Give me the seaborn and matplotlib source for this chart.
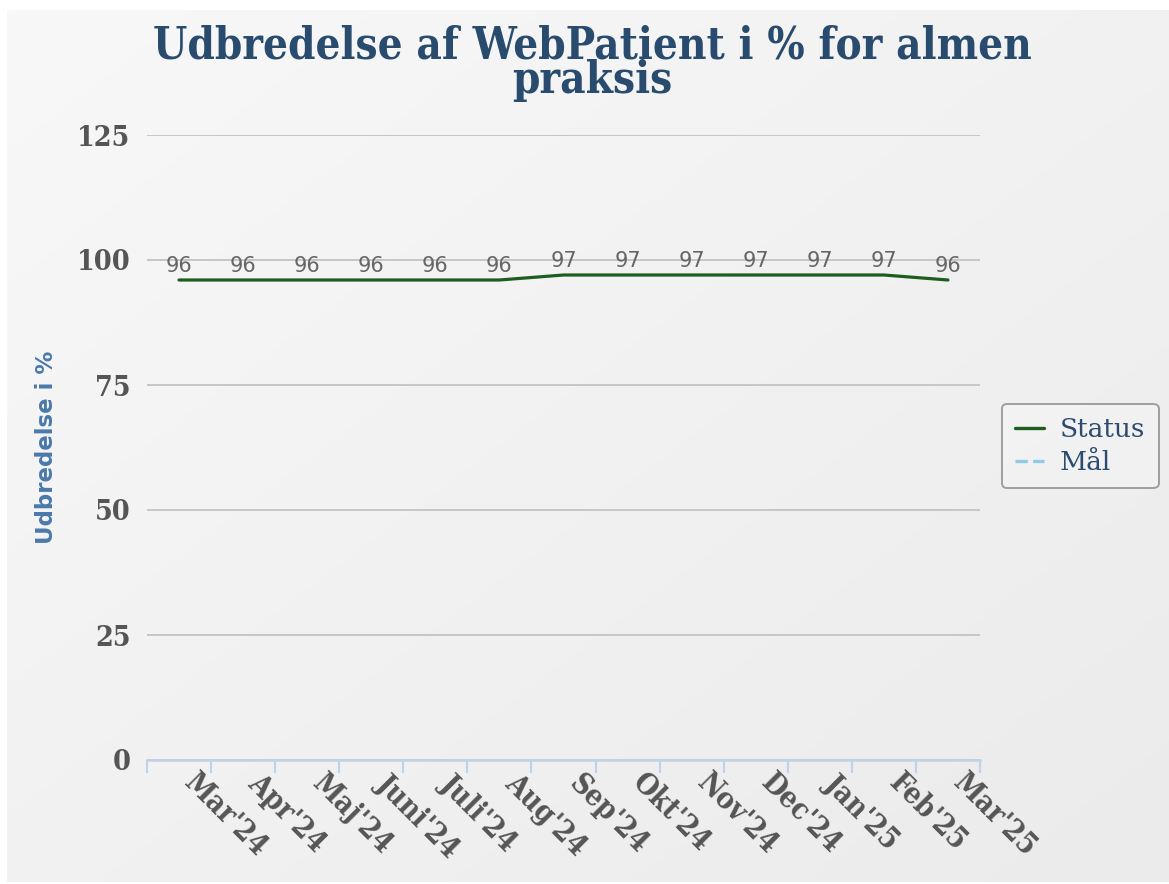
import numpy as np
import pandas as pd
import matplotlib
matplotlib.use('Agg')
import matplotlib.pyplot as plt
from matplotlib.lines import Line2D
from matplotlib.transforms import ScaledTranslation
import seaborn as sns

# data
months = ["Mar'24", "Apr'24", "Maj'24", "Juni'24", "Juli'24", "Aug'24",
          "Sep'24", "Okt'24", "Nov'24", "Dec'24", "Jan'25", "Feb'25", "Mar'25"]
status = [96, 96, 96, 96, 96, 96, 97, 97, 97, 97, 97, 97, 96]
y_ticks = [0, 25, 50, 75, 100, 125]

title = 'Udbredelse af WebPatient i % for almen\npraksis'
y_label = 'Udbredelse i %'

sns.set_theme(style='white')
plt.rcParams['font.family'] = ['DejaVu Sans']

df = pd.DataFrame({'month': months, 'status': status, 'pos': range(len(months))})

W, H = 1169, 884
fig = plt.figure(figsize=(W / 100, H / 100), dpi=100)
fig.patch.set_facecolor('white')

# gradient background panel
bg = fig.add_axes([7 / W, 2 / H, 1 - 7 / W, 1 - 12 / H])
gx, gy = np.meshgrid(np.linspace(0, 1, 200), np.linspace(0, 1, 200))
grad = (gx + gy) / 2
bg.imshow(grad, cmap=matplotlib.colors.LinearSegmentedColormap.from_list(
    'bg', ['#f8f8f8', '#ebebeb']), aspect='auto', extent=[0, 1, 0, 1], origin='upper')
bg.set_axis_off()

ax = fig.add_axes([147 / W, 1 - 760 / H, (980 - 147) / W, (760 - 135) / H])
ax.patch.set_alpha(0)

sns.lineplot(data=df, x='pos', y='status', ax=ax, color='#1b5e20', linewidth=2.3,
             legend=False)

for x, v in zip(df['pos'], df['status']):
    ax.annotate(str(v), (x, v), xytext=(0, 3), textcoords='offset points',
                ha='center', va='bottom', fontsize=15, color='#666666',
                family='DejaVu Sans')

serif = 'DejaVu Serif'

ax.set_xlim(-0.5, len(months) - 0.5)
ax.set_ylim(0, 125)
ax.set_yticks(y_ticks)
ax.set_yticklabels([str(t) for t in y_ticks], family=serif, fontweight='bold',
                   fontsize=20.5, color='#555555', fontstretch='condensed')
ax.tick_params(axis='y', length=0, pad=12)
ax.yaxis.grid(True, color='#c6c6c6', linewidth=1.4)
ax.set_axisbelow(True)

ax.set_xticks(range(len(months)))
ax.set_xticks(np.arange(-0.5, len(months)), minor=True)
ax.tick_params(axis='x', which='major', length=0, pad=8)
ax.tick_params(axis='x', which='minor', length=9, width=1.5, color='#c0d3e6',
               bottom=True, direction='out')
ax.set_xticklabels(months, rotation=-45, ha='left', va='top', rotation_mode='anchor',
                   family=serif, fontweight='bold', fontsize=21, color='#555555',
                   fontstretch='condensed')
shift = ScaledTranslation(20 / 100, 3 / 100, fig.dpi_scale_trans)
for lab in ax.get_xticklabels():
    lab.set_transform(lab.get_transform() + shift)

for s in ['top', 'right', 'left']:
    ax.spines[s].set_visible(False)
ax.spines['bottom'].set_color('#c0d3e6')
ax.spines['bottom'].set_linewidth(1.8)

ax.set_xlabel('')
ax.set_ylabel(y_label, family='DejaVu Sans', fontweight='bold', fontsize=16.5,
              color='#4a79ab')
ax.yaxis.set_label_coords(-(147 - 58) / (980 - 147), 0.5)

fig.text(592 / W, 1 - 63 / H, title, ha='center', va='center', family=serif,
         fontweight='bold', fontsize=31.5, color='#284b6e', linespacing=0.76,
         fontstretch='condensed')

handles = [Line2D([], [], color='#1b5e20', linewidth=2.4),
           Line2D([], [], color='#8ecbe8', linewidth=2.4, linestyle='--')]
leg = fig.legend(handles, ['Status', 'Mål'], loc='center left',
                 bbox_to_anchor=(1002 / W, 1 - 446 / H), frameon=True,
                 prop={'family': serif, 'size': 19}, handlelength=1.1,
                 handletextpad=0.6, labelspacing=0.3, borderpad=0.5,
                 borderaxespad=0)
leg.get_frame().set_edgecolor('#8a8a8a')
leg.get_frame().set_facecolor('#f3f3f3')
leg.get_frame().set_linewidth(1.4)
for t in leg.get_texts():
    t.set_color('#2b4c6f')

fig.savefig('out.png', dpi=100, facecolor=fig.get_facecolor())
